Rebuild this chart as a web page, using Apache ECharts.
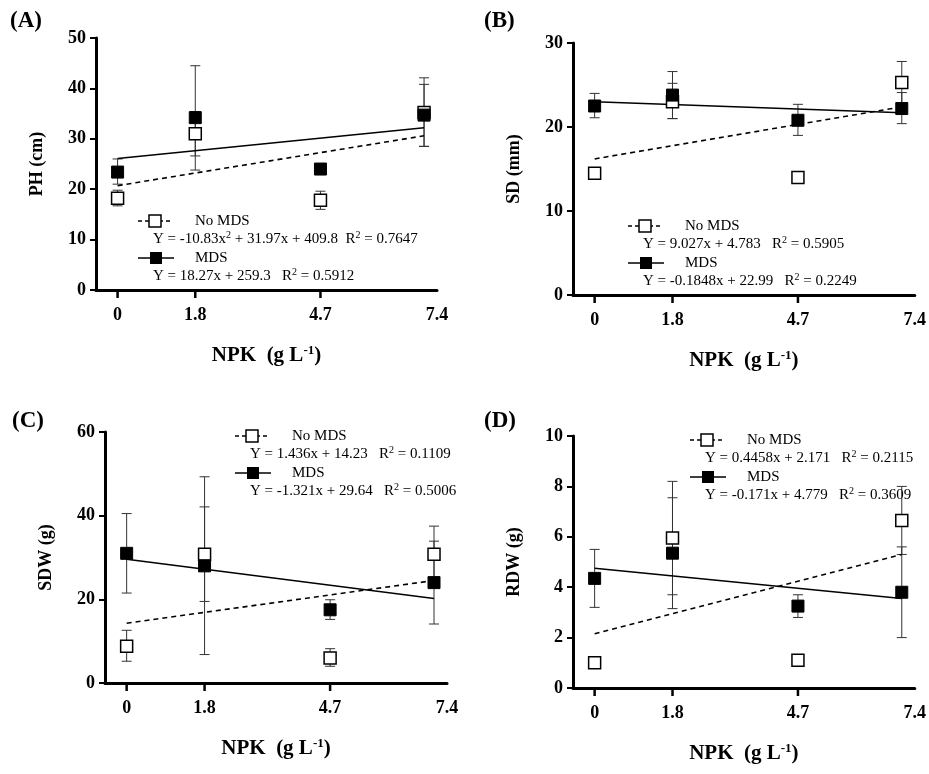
<!DOCTYPE html>
<html>
<head>
<meta charset="utf-8">
<script src="https://cdn.jsdelivr.net/npm/echarts@6/dist/echarts.min.js"></script>
<style>
  html, body { margin: 0; padding: 0; background: #fff; }
  #chart { width: 929px; height: 774px; }
</style>
</head>
<body>
<div id="chart"></div>
<script>
// x positions of the treatments (last one drawn slightly left of the 7.4 axis end)
var doseX = [0, 1.8, 4.7, 7.1];
var xTickLabels = [0, 1.8, 4.7, 7.4];
var panelNames = ['(A)', '(B)', '(C)', '(D)'];
var yNames = ['PH (cm)', 'SD (mm)', 'SDW (g)', 'RDW (g)'];
var yMax = [50, 30, 60, 10];
var yStep = [10, 10, 20, 2];

// means and error bar ends [low, high] (null = no bar)
var phNo = [18.2, 31.0, 17.8, 35.2];
var phNoErr = [[16.7, 19.8], [26.6, 35.4], [16.0, 19.6], [28.5, 40.8]];
var phMds = [23.4, 34.2, 24.0, 34.7];
var phMdsErr = [[21.0, 26.0], [23.8, 44.5], [23.5, 24.5], [28.5, 42.1]];
var sdNo = [14.5, 23.0, 14.0, 25.3];
var sdNoErr = [null, [21.0, 25.2], null, [22.8, 27.8]];
var sdMds = [22.5, 23.8, 20.8, 22.2];
var sdMdsErr = [[21.1, 24.0], [21.0, 26.6], [19.0, 22.7], [20.4, 24.1]];
var sdwNo = [8.8, 30.8, 6.0, 30.8];
var sdwNoErr = [[5.2, 12.6], [19.5, 42.1], [4.0, 8.2], [24.1, 37.5]];
var sdwMds = [31.0, 28.0, 17.5, 24.0];
var sdwMdsErr = [[21.5, 40.5], [6.8, 49.3], [15.2, 19.9], [14.1, 33.9]];
var rdwNo = [1.0, 5.95, 1.1, 6.65];
var rdwNoErr = [null, [3.7, 8.2], null, [5.3, 8.0]];
var rdwMds = [4.35, 5.35, 3.25, 3.8];
var rdwMdsErr = [[3.2, 5.5], [3.15, 7.55], [2.8, 3.7], [2.0, 5.6]];

// fitted lines as drawn: value at x = 0 and at x = 7.1
var fitNo = [[20.7, 30.6], [16.2, 22.4], [14.3, 24.5], [2.15, 5.3]];
var fitMds = [[26.1, 32.2], [23.0, 21.7], [29.6, 20.2], [4.75, 3.55]];

var eqNo = [
  ['Y = -10.83x', '2', ' + 31.97x + 409.8  R', '2', ' = 0.7647'],
  ['Y = 9.027x + 4.783   R', '2', ' = 0.5905'],
  ['Y = 1.436x + 14.23   R', '2', ' = 0.1109'],
  ['Y = 0.4458x + 2.171   R', '2', ' = 0.2115']
];
var eqMds = [
  ['Y = 18.27x + 259.3   R', '2', ' = 0.5912'],
  ['Y = -0.1848x + 22.99   R', '2', ' = 0.2249'],
  ['Y = -1.321x + 29.64   R', '2', ' = 0.5006'],
  ['Y = -0.171x + 4.779   R', '2', ' = 0.3609']
];

var means = [[phNo, phMds], [sdNo, sdMds], [sdwNo, sdwMds], [rdwNo, rdwMds]];
var errs = [[phNoErr, phMdsErr], [sdNoErr, sdMdsErr], [sdwNoErr, sdwMdsErr], [rdwNoErr, rdwMdsErr]];

var grids = [
  { left: 96, top: 38, width: 341, height: 252 },
  { left: 573, top: 43, width: 343, height: 252 },
  { left: 105, top: 432, width: 342, height: 251 },
  { left: 573, top: 436, width: 343, height: 252 }
];
// legend block anchors: [sample x, first row y]
var legendPos = [[138, 221], [628, 226], [235, 436], [690, 440]];
var labelPos = [[10, 10], [484, 10], [12, 410], [484, 410]];

var FONT = '"Liberation Serif", "Times New Roman", serif';
var option = { animation: false, grid: [], xAxis: [], yAxis: [], series: [], graphic: [] };

function eqText(parts) {
  return parts.map(function (p, i) {
    return i % 2 ? '{s|' + p + '}' : '{a|' + p + '}';
  }).join('');
}

function errSeries(i, data) {
  return {
    type: 'custom', xAxisIndex: i, yAxisIndex: i, z: 1, clip: false,
    data: data,
    renderItem: function (params, api) {
      var lo = api.coord([api.value(0), api.value(1)]);
      var hi = api.coord([api.value(0), api.value(2)]);
      var w = 5;
      var st = { stroke: '#333', lineWidth: 1 };
      return { type: 'group', children: [
        { type: 'line', shape: { x1: lo[0], y1: lo[1], x2: hi[0], y2: hi[1] }, style: st },
        { type: 'line', shape: { x1: lo[0] - w, y1: lo[1], x2: lo[0] + w, y2: lo[1] }, style: st },
        { type: 'line', shape: { x1: hi[0] - w, y1: hi[1], x2: hi[0] + w, y2: hi[1] }, style: st }
      ] };
    }
  };
}

for (var i = 0; i < 4; i++) {
  option.grid.push(grids[i]);
  option.xAxis.push({
    gridIndex: i, type: 'value', min: -0.5, max: 7.4, interval: 0.1,
    splitLine: { show: false }, axisTick: { show: false },
    axisLine: { onZero: false, lineStyle: { color: '#000', width: 3 } },
    axisLabel: {
      color: '#000', fontFamily: FONT, fontWeight: 'bold', fontSize: 18, margin: 16,
      formatter: function (v) {
        var r = Math.round(v * 10) / 10;
        return xTickLabels.indexOf(r) >= 0 ? String(r) : '';
      }
    },
    name: '{a|NPK  (g L}{s|-1}{a|)}', nameLocation: 'middle', nameGap: 54,
    nameTextStyle: {
      rich: {
        a: { fontFamily: FONT, fontWeight: 'bold', fontSize: 21, color: '#000' },
        s: { fontFamily: FONT, fontWeight: 'bold', fontSize: 13, color: '#000', padding: [0, 0, 11, 0] }
      }
    }
  });
  option.yAxis.push({
    gridIndex: i, type: 'value', min: 0, max: yMax[i], interval: yStep[i],
    splitLine: { show: false },
    axisLine: { show: true, onZero: false, lineStyle: { color: '#000', width: 3 } },
    axisTick: { show: true, length: 6, lineStyle: { width: 2, color: '#000' } },
    axisLabel: { color: '#000', fontFamily: FONT, fontWeight: 'bold', fontSize: 18, margin: 10 },
    name: yNames[i], nameLocation: 'middle', nameGap: 50,
    nameTextStyle: { fontFamily: FONT, fontWeight: 'bold', fontSize: 18, color: '#000' }
  });

  // x ticks under the axis
  option.series.push({
    type: 'custom', xAxisIndex: i, yAxisIndex: i, clip: false, silent: true,
    data: xTickLabels.slice(0, 3).map(function (x) { return [x, 0]; }),
    renderItem: function (params, api) {
      var p = api.coord([api.value(0), 0]);
      return { type: 'line', shape: { x1: p[0], y1: p[1], x2: p[0], y2: p[1] + 8 },
        style: { stroke: '#000', lineWidth: 2.5 } };
    }
  });

  // fitted lines
  option.series.push({
    type: 'line', xAxisIndex: i, yAxisIndex: i, symbol: 'none', z: 2,
    data: [[doseX[0], fitNo[i][0]], [doseX[3], fitNo[i][1]]],
    lineStyle: { color: '#000', width: 1.6, type: [5, 4] }
  });
  option.series.push({
    type: 'line', xAxisIndex: i, yAxisIndex: i, symbol: 'none', z: 2,
    data: [[doseX[0], fitMds[i][0]], [doseX[3], fitMds[i][1]]],
    lineStyle: { color: '#000', width: 1.6 }
  });

  // error bars
  for (var s = 0; s < 2; s++) {
    var ed = [];
    errs[i][s].forEach(function (e, k) { if (e) ed.push([doseX[k], e[0], e[1]]); });
    option.series.push(errSeries(i, ed));
  }

  // points
  option.series.push({
    type: 'scatter', xAxisIndex: i, yAxisIndex: i, symbol: 'rect', symbolSize: 12, z: 4,
    data: means[i][0].map(function (v, k) { return [doseX[k], v]; }),
    itemStyle: { color: '#fff', borderColor: '#000', borderWidth: 1.5, opacity: 1 }
  });
  option.series.push({
    type: 'scatter', xAxisIndex: i, yAxisIndex: i, symbol: 'rect', symbolSize: 12, z: 5,
    data: means[i][1].map(function (v, k) { return [doseX[k], v]; }),
    itemStyle: { color: '#000', borderColor: '#000', borderWidth: 1, opacity: 1 }
  });

  // panel label
  option.graphic.push({ type: 'text', left: labelPos[i][0], top: labelPos[i][1],
    style: { text: panelNames[i], font: 'bold 23px ' + FONT, fill: '#000' } });

  // legend block
  var lx = legendPos[i][0], ly = legendPos[i][1];
  var rich = {
    a: { fontFamily: FONT, fontSize: 15, fill: '#000' },
    s: { fontFamily: FONT, fontSize: 10, fill: '#000', padding: [0, 0, 7, 0] }
  };
  option.graphic.push(
    { type: 'line', shape: { x1: lx, y1: ly, x2: lx + 34, y2: ly }, style: { stroke: '#000', lineWidth: 1.6, lineDash: [4, 3] } },
    { type: 'rect', shape: { x: lx + 11, y: ly - 6, width: 12, height: 12 }, style: { fill: '#fff', stroke: '#000', lineWidth: 1.5 } },
    { type: 'text', x: lx + 57, y: ly, style: { text: 'No MDS', font: '15px ' + FONT, fill: '#000', verticalAlign: 'middle' } },
    { type: 'text', x: lx + 15, y: ly + 18, style: { text: eqText(eqNo[i]), rich: rich, verticalAlign: 'middle' } },
    { type: 'line', shape: { x1: lx, y1: ly + 37, x2: lx + 36, y2: ly + 37 }, style: { stroke: '#000', lineWidth: 1.6 } },
    { type: 'rect', shape: { x: lx + 12, y: ly + 31, width: 12, height: 12 }, style: { fill: '#000' } },
    { type: 'text', x: lx + 57, y: ly + 37, style: { text: 'MDS', font: '15px ' + FONT, fill: '#000', verticalAlign: 'middle' } },
    { type: 'text', x: lx + 15, y: ly + 55, style: { text: eqText(eqMds[i]), rich: rich, verticalAlign: 'middle' } }
  );
}

var myChart = echarts.init(document.getElementById('chart'));
myChart.setOption(option);
window.addEventListener('resize', function () {
  myChart.resize();
});
</script>
</body>
</html>
